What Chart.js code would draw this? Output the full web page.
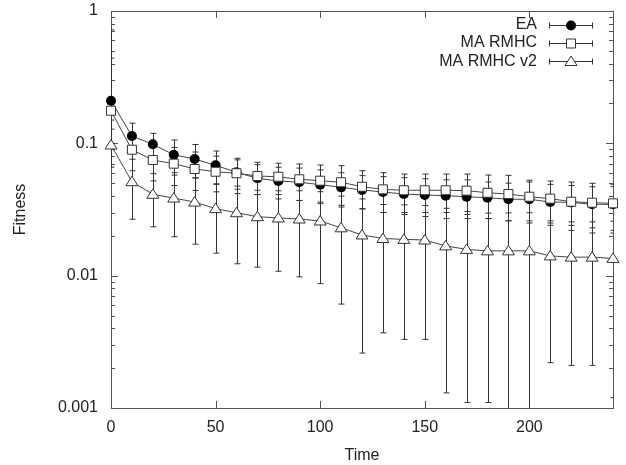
<!DOCTYPE html>
<html>
<head>
<meta charset="utf-8">
<script src="https://cdn.jsdelivr.net/npm/chart.js@4"></script>
<style>
  html, body { margin: 0; padding: 0; background: #fff; }
  #wrap { width: 626px; height: 465px; }
</style>
</head>
<body>
<div id="wrap"><canvas id="chart"></canvas></div>
<script>
// Waktu (x) dan nilai rata-rata tiap seri
const times = [0, 10, 20, 30, 40, 50, 60, 70, 80, 90, 100, 110, 120, 130, 140, 150, 160, 170, 180, 190, 200, 210, 220, 230, 240];

const eaMean = [0.210, 0.1136, 0.0983, 0.0820, 0.0761, 0.0682, 0.0604, 0.0544, 0.0519, 0.0508, 0.0487, 0.0465, 0.0444, 0.0429, 0.0414, 0.0407, 0.0402, 0.0395, 0.0388, 0.0378, 0.0378, 0.0360, 0.0358, 0.0346, 0.0346];
const eaHigh = [0.44, 0.142, 0.119, 0.106, 0.098, 0.0875, 0.075, 0.069, 0.066, 0.065, 0.063, 0.060, 0.057, 0.056, 0.055, 0.054, 0.053, 0.053, 0.051, 0.050, 0.051, 0.049, 0.048, 0.047, 0.047];
const eaLow = [0.15, 0.086, 0.078, 0.060, 0.055, 0.049, 0.045, 0.041, 0.038, 0.037, 0.035, 0.033, 0.032, 0.030, 0.029, 0.028, 0.027, 0.027, 0.027, 0.026, 0.025, 0.024, 0.024, 0.023, 0.022];

const maMean = [0.1764, 0.0895, 0.0748, 0.0702, 0.0640, 0.0610, 0.0594, 0.0566, 0.0559, 0.0535, 0.0522, 0.0508, 0.0470, 0.0449, 0.0442, 0.0442, 0.0442, 0.0439, 0.0423, 0.0414, 0.0395, 0.0382, 0.0362, 0.0356, 0.0352];
const maHigh = [0.72, 0.118, 0.100, 0.093, 0.086, 0.080, 0.0771, 0.0719, 0.0707, 0.0698, 0.0686, 0.0678, 0.0621, 0.060, 0.0586, 0.0586, 0.0586, 0.0586, 0.0576, 0.0573, 0.0526, 0.0519, 0.051, 0.0499, 0.049];
const maLow = [0.10, 0.062, 0.052, 0.048, 0.044, 0.043, 0.0417, 0.041, 0.041, 0.037, 0.036, 0.034, 0.032, 0.030, 0.030, 0.030, 0.030, 0.029, 0.027, 0.026, 0.026, 0.025, 0.022, 0.021, 0.021];

const v2Mean = [0.0971, 0.0513, 0.0412, 0.0386, 0.0360, 0.0321, 0.0299, 0.0279, 0.0273, 0.0268, 0.0259, 0.0230, 0.0203, 0.0191, 0.0188, 0.0186, 0.0168, 0.0158, 0.0154, 0.0154, 0.0154, 0.0141, 0.0138, 0.0138, 0.0135];
const v2High = [0.128, 0.0759, 0.059, 0.0575, 0.0547, 0.0494, 0.0475, 0.0442, 0.0438, 0.0438, 0.0431, 0.0399, 0.0380, 0.0345, 0.0343, 0.0339, 0.0323, 0.0305, 0.0297, 0.0298, 0.0299, 0.0260, 0.0255, 0.0255, 0.0258];
const v2Low = [0.066, 0.0267, 0.0234, 0.0197, 0.0173, 0.0148, 0.0123, 0.0116, 0.0108, 0.0098, 0.0087, 0.0061, 0.0026, 0.0037, 0.0033, 0.0033, 0.0013, 0.0011, 0.0011, 0.0010, 0.0009, 0.0022, 0.0021, 0.0021, 0.0012];

const seriesNames = ['EA', 'MA RMHC', 'MA RMHC v2'];

// Label sumbu
const xTicks = [0, 50, 100, 150, 200];
const yTicks = [0.001, 0.01, 0.1, 1];

const FONT = '"Liberation Sans", Arial, sans-serif';
const INK = '#222';

function toPoints(ys) {
    return times.map((t, i) => ({ x: t, y: ys[i] }));
}

// Gambar simbol ala gnuplot
function drawMarker(ctx, kind, x, y) {
    ctx.save();
    ctx.lineWidth = 1;
    ctx.strokeStyle = '#333';
    ctx.beginPath();
    if (kind === 'circle') {
        ctx.arc(x, y, 5, 0, Math.PI * 2);
        ctx.fillStyle = '#000';
        ctx.fill();
    } else if (kind === 'square') {
        ctx.rect(x - 4.5, y - 4.5, 9, 9);
        ctx.fillStyle = '#fff';
        ctx.fill();
        ctx.stroke();
    } else {
        ctx.moveTo(x, y - 5.5);
        ctx.lineTo(x + 6, y + 4);
        ctx.lineTo(x - 6, y + 4);
        ctx.closePath();
        ctx.fillStyle = '#fff';
        ctx.fill();
        ctx.stroke();
    }
    ctx.restore();
}

const markerKinds = ['circle', 'square', 'triangle'];
const lows = [eaLow, maLow, v2Low];
const highs = [eaHigh, maHigh, v2High];

// Plugin: error bar, bingkai + tick ke dalam, legenda
const gnuplotLook = {
    id: 'gnuplotLook',
    beforeDatasetsDraw(chart) {
        const { ctx, chartArea: a, scales: { x, y } } = chart;
        ctx.save();
        ctx.strokeStyle = '#555';
        ctx.lineWidth = 1;
        // tick minor y (kiri dan kanan)
        for (let d = -3; d < 0; d++) {
            for (let m = 1; m <= 9; m++) {
                const v = m * Math.pow(10, d);
                const py = Math.round(y.getPixelForValue(v)) + 0.5;
                const len = m === 1 ? 7 : 4;
                ctx.beginPath();
                ctx.moveTo(a.left, py); ctx.lineTo(a.left + len, py);
                ctx.moveTo(a.right, py); ctx.lineTo(a.right - len, py);
                ctx.stroke();
            }
        }
        xTicks.forEach(t => {
            const px = Math.round(x.getPixelForValue(t)) + 0.5;
            ctx.beginPath();
            ctx.moveTo(px, a.bottom); ctx.lineTo(px, a.bottom - 7);
            ctx.moveTo(px, a.top); ctx.lineTo(px, a.top + 7);
            ctx.stroke();
        });
        ctx.strokeRect(Math.round(a.left) + 0.5, Math.round(a.top) + 0.5,
            Math.round(a.right - a.left), Math.round(a.bottom - a.top));

        // error bar
        ctx.beginPath();
        ctx.rect(a.left, a.top, a.right - a.left, a.bottom - a.top);
        ctx.clip();
        ctx.strokeStyle = '#333';
        lows.forEach((lo, s) => {
            times.forEach((t, i) => {
                const px = Math.round(x.getPixelForValue(t)) + 0.5;
                const yLo = lo[i] > 0.001 ? y.getPixelForValue(lo[i]) : a.bottom;
                const yHi = y.getPixelForValue(highs[s][i]);
                ctx.beginPath();
                ctx.moveTo(px, yLo); ctx.lineTo(px, yHi);
                ctx.moveTo(px - 3, yHi); ctx.lineTo(px + 3, yHi);
                if (lo[i] > 0.001) { ctx.moveTo(px - 3, yLo); ctx.lineTo(px + 3, yLo); }
                ctx.stroke();
            });
        });
        ctx.restore();
    },
    afterDatasetsDraw(chart) {
        const { ctx, scales: { x, y } } = chart;
        const sets = [eaMean, maMean, v2Mean];
        sets.forEach((ys, s) => {
            times.forEach((t, i) => {
                drawMarker(ctx, markerKinds[s], x.getPixelForValue(t), y.getPixelForValue(ys[i]));
            });
        });
        // legenda
        ctx.save();
        ctx.font = '16px ' + FONT;
        ctx.fillStyle = INK;
        ctx.textAlign = 'right';
        ctx.textBaseline = 'middle';
        seriesNames.forEach((name, i) => {
            const ly = 24.5 + i * 18.3;
            ctx.fillText(name, 537, ly);
            const yy = Math.round(ly) + 0.5;
            ctx.strokeStyle = '#333';
            ctx.lineWidth = 1;
            ctx.beginPath();
            ctx.moveTo(549, yy); ctx.lineTo(593, yy);
            ctx.moveTo(549.5, yy - 3); ctx.lineTo(549.5, yy + 3);
            ctx.moveTo(592.5, yy - 3); ctx.lineTo(592.5, yy + 3);
            ctx.stroke();
            drawMarker(ctx, markerKinds[i], 571, yy);
        });
        ctx.restore();
    }
};

const lineStyle = {
    borderColor: '#444',
    borderWidth: 1,
    pointRadius: 0,
    fill: false,
    tension: 0
};

new Chart(document.getElementById('chart').getContext('2d'), {
    type: 'line',
    data: {
        datasets: [
            Object.assign({ label: seriesNames[0], data: toPoints(eaMean) }, lineStyle),
            Object.assign({ label: seriesNames[1], data: toPoints(maMean) }, lineStyle),
            Object.assign({ label: seriesNames[2], data: toPoints(v2Mean) }, lineStyle)
        ]
    },
    options: {
        responsive: true,
        maintainAspectRatio: false,
        animation: false,
        layout: { padding: { top: 11, right: 13, bottom: 0, left: 0 } },
        plugins: {
            legend: { display: false },
            tooltip: { enabled: false }
        },
        scales: {
            x: {
                type: 'linear',
                min: 0,
                max: 240,
                grid: { display: false },
                border: { display: false },
                afterBuildTicks: s => { s.ticks = xTicks.map(v => ({ value: v })); },
                afterFit: s => { s.height = 57; s.paddingLeft = 0; s.paddingRight = 0; },
                ticks: { color: INK, font: { family: FONT, size: 16 }, padding: 2, maxRotation: 0 },
                title: { display: true, text: 'Time', color: INK, font: { family: FONT, size: 16 }, padding: { top: 2, bottom: 0 } }
            },
            y: {
                type: 'logarithmic',
                min: 0.001,
                max: 1,
                grid: { display: false },
                border: { display: false },
                afterBuildTicks: s => { s.ticks = yTicks.map(v => ({ value: v })); },
                afterFit: s => { s.width = 111; s.paddingTop = 0; s.paddingBottom = 0; },
                ticks: { color: INK, font: { family: FONT, size: 16 }, padding: 5, callback: v => String(v) },
                title: { display: true, text: 'Fitness', color: INK, font: { family: FONT, size: 16 }, padding: { top: 11, bottom: 0 } }
            }
        }
    },
    plugins: [gnuplotLook]
});
</script>
</body>
</html>
